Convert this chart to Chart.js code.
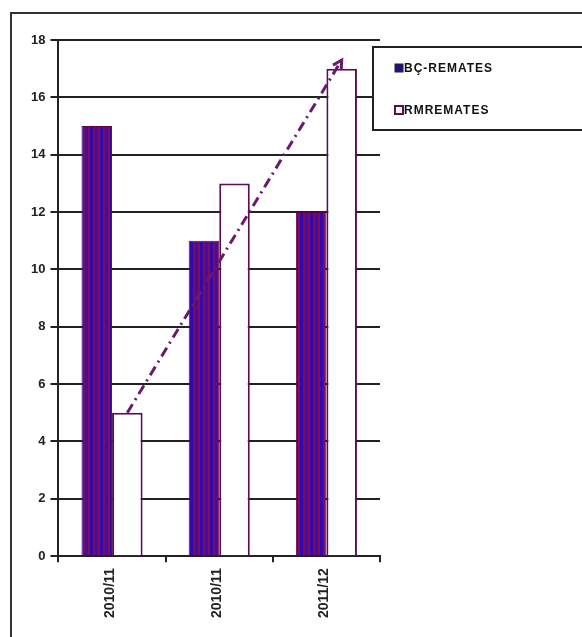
<!DOCTYPE html>
<html>
<head>
<meta charset="utf-8">
<script src="https://cdn.jsdelivr.net/npm/chart.js@4/dist/chart.umd.min.js"></script>
<style>
  html, body { margin: 0; padding: 0; background: #fff; overflow: hidden; }
  #frame {
    position: absolute; left: 10px; top: 12px; width: 640px; height: 700px;
    border-left: 2px solid #333; border-top: 2px solid #333;
  }
  #wrap { position: absolute; left: 0; top: 0; width: 582px; height: 637px; }
</style>
</head>
<body>
<div id="frame"></div>
<div id="wrap"><canvas id="chart"></canvas></div>
<script>
// data
const categories = ["2010/11", "2010/11", "2011/12"]
const bcRemates = [15, 11, 12]
const rmRemates = [5, 13, 17]
const trendIndex = [0, 2]          // dash-dot arrow runs over the RMREMATES bars
const trendValues = [5, 17.3]
const yTicks = [0, 2, 4, 6, 8, 10, 12, 14, 16, 18]

const FAMILY = "Arial, 'Liberation Sans', sans-serif"

// striped fill of the dark bars (blue / maroon bands)
function stripePattern() {
  const c = document.createElement("canvas")
  c.width = 10; c.height = 4
  const g = c.getContext("2d")
  const bands = [["#3408b0", 3], ["#70105e", 2], ["#4a0aa8", 3], ["#7c0f58", 2]]
  let x = 0
  bands.forEach(([col, w]) => { g.fillStyle = col; g.fillRect(x, 0, w, 4); x += w })
  return g.createPattern(c, "repeat")
}

// dash-dot trend arrow, placed through the bar elements and the y scale
const trendArrow = {
  id: "trendArrow",
  afterDatasetsDraw(chart) {
    const bars = chart.getDatasetMeta(1).data
    const y = chart.scales.y
    const pts = trendIndex.map((i, k) => ({ x: bars[i].x, y: y.getPixelForValue(trendValues[k]) }))
    const ctx = chart.ctx
    ctx.save()
    ctx.strokeStyle = "#6a1a6a"
    ctx.lineWidth = 3
    ctx.setLineDash([10, 5, 2, 5])
    ctx.beginPath()
    ctx.moveTo(pts[0].x, pts[0].y)
    ctx.lineTo(pts[1].x, pts[1].y)
    ctx.stroke()
    ctx.setLineDash([])
    const a = pts[0], b = pts[1]
    const ang = Math.atan2(b.y - a.y, b.x - a.x)
    ctx.beginPath()
    ctx.moveTo(b.x - 10 * Math.cos(ang - 0.5), b.y - 10 * Math.sin(ang - 0.5))
    ctx.lineTo(b.x, b.y)
    ctx.lineTo(b.x - 10 * Math.cos(ang + 0.5), b.y - 10 * Math.sin(ang + 0.5))
    ctx.stroke()
    ctx.restore()
  }
}

// legend box on the right, drawn from the dataset labels
const boxLegend = {
  id: "boxLegend",
  afterDraw(chart) {
    const ctx = chart.ctx
    const area = chart.chartArea
    const x0 = area.right - 7, y0 = 47
    ctx.save()
    ctx.strokeStyle = "#222"
    ctx.lineWidth = 2
    ctx.fillStyle = "#fff"
    ctx.fillRect(x0, y0, 260, 83)
    ctx.strokeRect(x0, y0, 260, 83)
    ctx.font = "bold 12px " + FAMILY
    ctx.textBaseline = "middle"
    if ("letterSpacing" in ctx) ctx.letterSpacing = "1px"
    const rows = [68, 110]
    chart.data.datasets.forEach((ds, i) => {
      const y = rows[i]
      if (i === 0) {
        ctx.fillStyle = "#2a0a80"
        ctx.fillRect(x0 + 22, y - 4, 8, 8)
        ctx.strokeStyle = "#222"; ctx.lineWidth = 1
        ctx.strokeRect(x0 + 22, y - 4, 8, 8)
      } else {
        ctx.fillStyle = "#fff"
        ctx.strokeStyle = "#5a1050"; ctx.lineWidth = 2
        ctx.strokeRect(x0 + 22, y - 4, 8, 8)
      }
      ctx.fillStyle = "#111"
      ctx.fillText(ds.label, x0 + 31, y + 1)
    })
    ctx.restore()
  }
}

const canvas = document.getElementById("chart")
new Chart(canvas, {
  type: "bar",
  data: {
    labels: categories,
    datasets: [
      {
        label: "BÇ-REMATES",
        data: bcRemates,
        backgroundColor: stripePattern(),
        borderColor: "#600040",
        borderWidth: 1,
        categoryPercentage: 0.57,
        barPercentage: 1.0
      },
      {
        label: "RMREMATES",
        data: rmRemates,
        backgroundColor: "#ffffff",
        borderColor: "#5a1050",
        borderWidth: 2,
        categoryPercentage: 0.57,
        barPercentage: 1.0
      }
    ]
  },
  options: {
    responsive: true,
    maintainAspectRatio: false,
    animation: false,
    layout: { padding: { left: 26, top: 40, right: 202, bottom: 13 } },
    plugins: {
      legend: { display: false },
      tooltip: { enabled: false }
    },
    scales: {
      x: {
        grid: { display: true, drawOnChartArea: false, drawTicks: true, tickLength: 6, color: "#222", lineWidth: 2, offset: true },
        border: { display: true, color: "#222", width: 2 },
        ticks: { color: "#222", font: { family: FAMILY, size: 14, weight: "bold" }, maxRotation: 90, minRotation: 90, padding: 6, labelOffset: -2 }
      },
      y: {
        min: 0,
        max: 18,
        afterBuildTicks: (axis) => { axis.ticks = yTicks.map(v => ({ value: v })) },
        grid: { color: "#222", lineWidth: 2, tickLength: 8 },
        border: { display: true, color: "#222", width: 2 },
        ticks: { color: "#222", font: { family: FAMILY, size: 13, weight: "bold" }, padding: 5 }
      }
    }
  },
  plugins: [trendArrow, boxLegend]
})
</script>
</body>
</html>
